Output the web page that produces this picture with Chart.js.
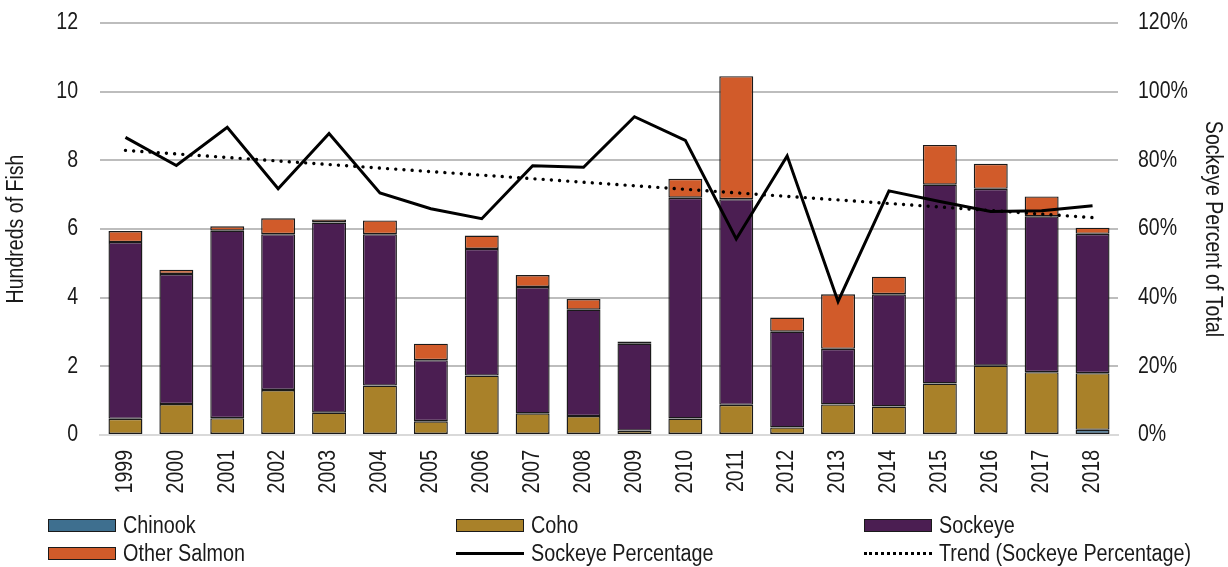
<!DOCTYPE html>
<html>
<head>
<meta charset="utf-8">
<title>Salmon catch by species, 1999–2018</title>
<script src="https://cdn.jsdelivr.net/npm/chart.js@4"></script>
<style>
  html, body { margin: 0; padding: 0; background: #fff; }
  #wrap { position: relative; width: 1228px; height: 567px; overflow: hidden; }
  #chart { position: absolute; left: 0; top: 0; }
  #legend {
    position: absolute; left: 48px; top: 511px;
    display: grid; grid-template-columns: 408px 408px 360px; grid-auto-rows: 28px;
    font-family: 'Liberation Sans', Arial, sans-serif;
    font-size: 23px; color: #1a1a1a;
  }
  .item { display: flex; align-items: center; white-space: nowrap; }
  .swatch { width: 68px; height: 13px; box-sizing: border-box; border: 1.5px solid #1a1a1a; margin-right: 7px; flex: none; }
  .line { width: 68px; height: 0; margin-right: 7px; flex: none; }
  .label { display: inline-block; transform: scaleX(0.86); transform-origin: left center; }
</style>
</head>
<body>
<div id="wrap">
  <canvas id="chart" width="1228" height="567"></canvas>
  <div id="legend"></div>
</div>
<script>
// Catch per year, in hundreds of fish
const years = ['1999','2000','2001','2002','2003','2004','2005','2006','2007','2008',
               '2009','2010','2011','2012','2013','2014','2015','2016','2017','2018'];
const chinook     = [0, 0, 0, 0, 0, 0, 0, 0, 0, 0, 0, 0, 0, 0, 0, 0, 0, 0, 0, 0.15];
const coho        = [0.47, 0.90, 0.49, 1.31, 0.65, 1.44, 0.40, 1.73, 0.63, 0.55,
                     0.13, 0.48, 0.88, 0.22, 0.89, 0.83, 1.50, 2.02, 1.83, 1.65];
const sockeye     = [5.15, 3.79, 5.46, 4.54, 5.54, 4.41, 1.78, 3.69, 3.68, 3.10,
                     2.53, 6.43, 5.99, 2.79, 1.62, 3.27, 5.79, 5.15, 4.54, 4.06];
const otherSalmon = [0.32, 0.12, 0.13, 0.46, 0.09, 0.40, 0.48, 0.39, 0.35, 0.31,
                     0.06, 0.55, 3.58, 0.41, 1.59, 0.51, 1.16, 0.73, 0.58, 0.18];
// Sockeye share of the total catch, percent
const sockeyePct  = [86.7, 78.5, 89.6, 71.7, 87.8, 70.5, 65.9, 63.0, 78.4, 78.0,
                     92.7, 85.8, 57.1, 81.3, 38.9, 71.1, 68.0, 65.1, 65.3, 66.8];

// Least-squares linear trend of the sockeye share
function linearTrend(values) {
  const n = values.length;
  const xm = (n - 1) / 2;
  const ym = values.reduce((a, b) => a + b, 0) / n;
  let sxy = 0, sxx = 0;
  values.forEach((v, i) => { sxy += (i - xm) * (v - ym); sxx += (i - xm) * (i - xm); });
  const slope = sxy / sxx;
  return values.map((_, i) => ym + slope * (i - xm));
}
const sockeyeTrend = linearTrend(sockeyePct);

const FONT = "'Liberation Sans', Arial, sans-serif";
const INK = '#1a1a1a';
const COLORS = {
  chinook: '#3e6f8f',
  coho: '#a98129',
  sockeye: '#4b1e52',
  other: '#d15b2a'
};

// Condensed lettering: squeeze canvas text horizontally along its baseline
const canvas = document.getElementById('chart');
const ctx2d = canvas.getContext('2d');
const SQUEEZE = 0.85;
ctx2d.fillText = function (text, x, y) {
  this.save();
  this.translate(x, y);
  this.scale(SQUEEZE, 1);
  CanvasRenderingContext2D.prototype.fillText.call(this, text, 0, 0);
  this.restore();
};
ctx2d.measureText = function (text) {
  const m = CanvasRenderingContext2D.prototype.measureText.call(this, text);
  return {
    width: m.width * SQUEEZE,
    actualBoundingBoxLeft: m.actualBoundingBoxLeft * SQUEEZE,
    actualBoundingBoxRight: m.actualBoundingBoxRight * SQUEEZE,
    actualBoundingBoxAscent: m.actualBoundingBoxAscent,
    actualBoundingBoxDescent: m.actualBoundingBoxDescent,
    fontBoundingBoxAscent: m.fontBoundingBoxAscent,
    fontBoundingBoxDescent: m.fontBoundingBoxDescent
  };
};

// Vertical axes: fixed widths, and no extra room reserved above/below the plot
const fixVertical = width => s => { s.width = width; s.paddingTop = 0; s.paddingBottom = 0; };

const barStyle = (label, data, color) => ({
  type: 'bar', label, data, backgroundColor: color,
  borderColor: INK, borderWidth: 1.4, borderSkipped: false, yAxisID: 'y', order: 2,
  barPercentage: 0.667, categoryPercentage: 1.0
});

const chart = new Chart(canvas, {
  data: {
    labels: years,
    datasets: [
      barStyle('Chinook', chinook, COLORS.chinook),
      barStyle('Coho', coho, COLORS.coho),
      barStyle('Sockeye', sockeye, COLORS.sockeye),
      barStyle('Other Salmon', otherSalmon, COLORS.other),
      {
        type: 'line', label: 'Sockeye Percentage', data: sockeyePct, yAxisID: 'y1', order: 0,
        borderColor: '#000', borderWidth: 3, pointRadius: 0, tension: 0, fill: false
      },
      {
        type: 'line', label: 'Trend (Sockeye Percentage)', data: sockeyeTrend, yAxisID: 'y1', order: 1,
        borderColor: '#000', borderWidth: 3.4, borderDash: [0.01, 8.2], borderCapStyle: 'round',
        pointRadius: 0, tension: 0, fill: false
      }
    ]
  },
  options: {
    responsive: false,
    animation: false,
    layout: { padding: { top: 23, left: 0, right: 0, bottom: 0 } },
    plugins: { legend: { display: false }, tooltip: { enabled: false } },
    scales: {
      x: {
        stacked: true,
        grid: { display: false, drawTicks: false },
        border: { display: true, color: '#d9d9d9', width: 2 },
        ticks: { minRotation: 90, maxRotation: 90, padding: 15, color: INK, font: { family: FONT, size: 23 } },
        afterFit: s => { s.height = 132; }
      },
      y: {
        stacked: true, position: 'left', min: 0, max: 12,
        grid: { color: '#bdbdbd', lineWidth: 2, drawTicks: false },
        border: { display: false },
        ticks: { stepSize: 2, padding: 22, color: INK, font: { family: FONT, size: 23 } },
        title: { display: true, text: 'Hundreds of Fish', color: INK, font: { family: FONT, size: 23 }, padding: { top: 3, bottom: 0 } },
        afterFit: fixVertical(100)
      },
      y1: {
        position: 'right', min: 0, max: 120,
        grid: { display: false, drawTicks: false },
        border: { display: false },
        ticks: { stepSize: 20, padding: 20, color: INK, font: { family: FONT, size: 23 }, callback: v => v + '%' },
        title: { display: true, text: 'Sockeye Percent of Total', color: INK, font: { family: FONT, size: 23 }, padding: { top: 2, bottom: 0 } },
        afterFit: fixVertical(110)
      }
    }
  }
});

// Legend laid out in three fixed columns, built from the chart's datasets
const legend = document.getElementById('legend');
chart.data.datasets.forEach(ds => {
  const item = document.createElement('div');
  item.className = 'item';
  const mark = document.createElement('span');
  if (ds.type === 'bar') {
    mark.className = 'swatch';
    mark.style.background = ds.backgroundColor;
  } else {
    mark.className = 'line';
    mark.style.borderTop = ds.borderDash ? '3px dotted #000' : '3px solid #000';
  }
  const text = document.createElement('span');
  text.className = 'label';
  text.textContent = ds.label;
  item.appendChild(mark);
  item.appendChild(text);
  legend.appendChild(item);
});
</script>
</body>
</html>
